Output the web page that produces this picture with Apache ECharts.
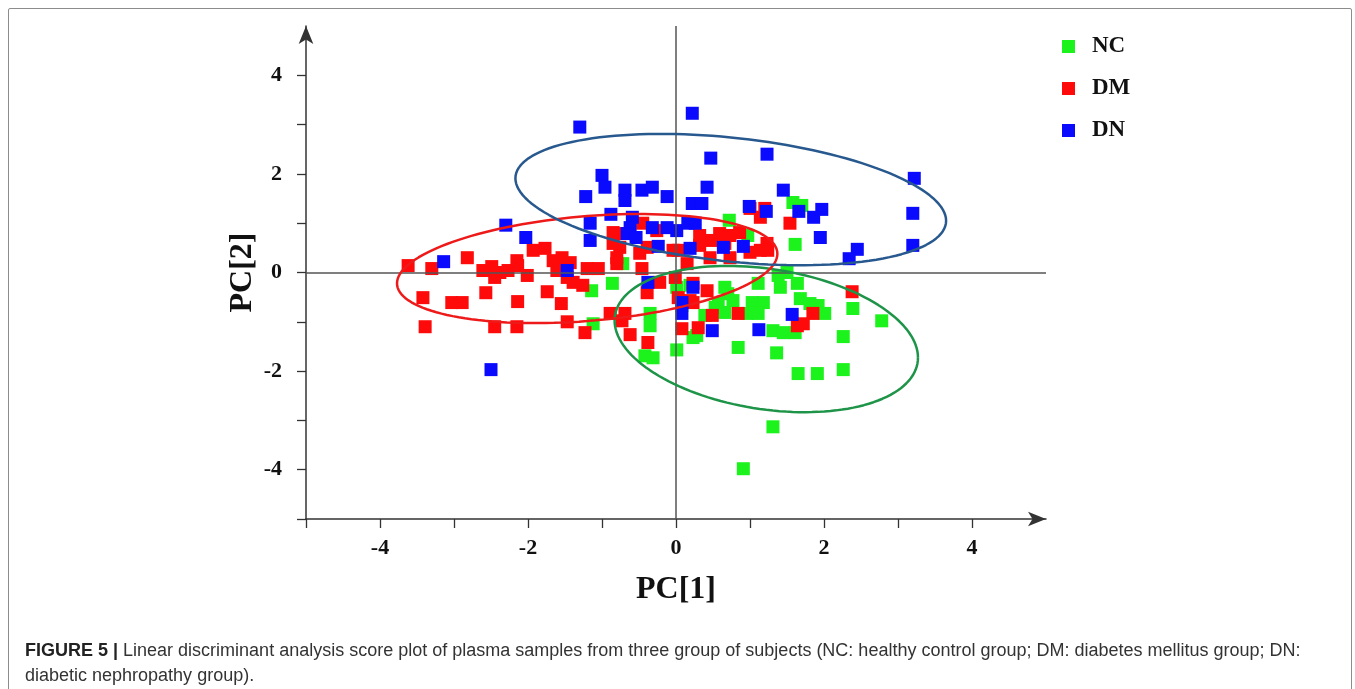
<!DOCTYPE html>
<html>
<head>
<meta charset="utf-8">
<script src="https://cdn.jsdelivr.net/npm/echarts@6/dist/echarts.min.js"></script>
<style>
  html, body { margin: 0; padding: 0; background: #fff; }
  #frame { position: absolute; left: 8px; top: 8px; width: 1342px; height: 720px; border: 1.5px solid #8c8c8c; border-radius: 2px; }
  #chart { position: absolute; left: 0; top: 0; width: 1355px; height: 689px; }
  #caption { position: absolute; left: 25px; top: 638px; width: 1315px; font: 18px/25px "Liberation Sans", Arial, sans-serif; color: #333; }
  #caption b { font-weight: bold; color: #222; }
</style>
</head>
<body>
<div id="frame"></div>
<div id="chart"></div>
<div id="caption"><b>FIGURE 5 |</b> Linear discriminant analysis score plot of plasma samples from three group of subjects (NC: healthy control group; DM: diabetes mellitus group; DN:<br>diabetic nephropathy group).</div>
<script>
// groups, colours
const groups = ['NC', 'DM', 'DN']
const pointColors = ['#1cf21c', '#ff0a0a', '#0a0aff']
const ellipseColors = ['#1e9448', '#ee1a1a', '#27588e']

// score points [PC1, PC2]
const nc = [
  [-0.86, -0.22], [-0.72, 0.18], [-1.14, -0.37], [-1.12, -1.04], [-0.35, -0.83], [-0.35, -1.08],
  [-0.42, -1.69], [-0.31, -1.73], [0.01, -1.57], [0.28, -1.28], [0.19, -0.26], [0.01, -0.30],
  [0.39, -0.87], [0.53, -0.71], [0.70, -0.43], [0.57, -0.63], [0.66, -0.81], [0.77, -0.57],
  [1.03, -0.61], [1.18, -0.61], [1.11, -0.83], [0.96, -0.83], [1.11, -0.22], [1.41, -0.30],
  [1.38, -0.06], [1.50, 0.00], [1.31, -1.18], [1.45, -1.22], [1.61, -1.22], [0.84, -1.52],
  [1.36, -1.63], [1.68, -0.53], [1.81, -0.63], [1.92, -0.67], [2.01, -0.83], [2.39, -0.73],
  [2.78, -0.98], [2.26, -1.30], [1.65, -2.05], [1.91, -2.05], [2.26, -1.97], [1.31, -3.13],
  [0.91, -3.98], [1.58, 1.42], [1.70, 1.36], [0.72, 1.06], [0.97, 0.75], [1.61, 0.57],
  [0.66, -0.30], [0.08, -0.67], [1.64, -0.22], [0.23, -1.32]
]
const dm = [
  [-3.62, 0.14], [-3.30, 0.08], [-2.82, 0.30], [-3.42, -0.51], [-3.39, -1.10], [-3.03, -0.61],
  [-2.89, -0.61], [-2.61, 0.04], [-2.49, 0.12], [-2.45, -0.10], [-2.38, 0.00], [-2.27, 0.04],
  [-2.14, 0.14], [-2.01, -0.06], [-2.15, 0.24], [-2.57, -0.41], [-2.45, -1.10], [-2.15, -1.10],
  [-2.14, -0.59], [-1.74, -0.39], [-1.55, -0.63], [-1.47, -1.00], [-1.23, -1.22], [-1.93, 0.45],
  [-1.77, 0.49], [-1.66, 0.24], [-1.54, 0.30], [-1.43, 0.20], [-1.61, 0.04], [-1.47, -0.10],
  [-1.39, -0.20], [-1.26, -0.26], [-1.20, 0.08], [-1.05, 0.08], [-0.80, 0.30], [-0.80, 0.18],
  [-0.46, 0.08], [-0.22, -0.20], [-0.01, -0.10], [-0.89, -0.83], [-0.69, -0.83], [-0.73, -0.98],
  [-0.62, -1.26], [-0.38, -1.42], [0.08, -1.14], [0.30, -1.12], [0.19, -0.57], [0.03, -0.51],
  [-0.39, -0.41], [-0.85, 0.81], [-0.69, 0.79], [-0.85, 0.59], [-0.45, 1.00], [-0.39, 0.51],
  [-0.49, 0.39], [-0.76, 0.51], [-0.26, 0.85], [0.03, 0.45], [0.32, 0.75], [0.49, 0.65],
  [0.59, 0.79], [0.73, 0.75], [0.86, 0.81], [1.00, 1.30], [1.14, 1.12], [1.23, 0.59],
  [1.54, 1.00], [0.46, 0.30], [0.73, 0.30], [1.00, 0.41], [1.14, 0.45], [0.15, 0.18],
  [0.23, -0.22], [0.42, -0.37], [0.23, -0.61], [0.49, -0.87], [0.84, -0.83], [1.85, -0.83],
  [1.72, -1.04], [1.64, -1.08], [2.38, -0.39], [0.32, 0.55], [0.66, 0.59], [1.24, 0.45],
  [-0.04, 0.45], [1.20, 1.30]
]
const dn = [
  [-1.30, 2.95], [-1.00, 1.97], [-0.96, 1.73], [-1.22, 1.54], [-0.69, 1.67], [-0.69, 1.46],
  [-0.46, 1.67], [-0.32, 1.73], [-0.12, 1.54], [-2.30, 0.96], [-2.03, 0.71], [-3.14, 0.22],
  [-1.16, 1.00], [-1.16, 0.65], [-0.88, 1.18], [-0.59, 1.12], [-0.62, 0.91], [-0.66, 0.79],
  [-0.54, 0.71], [-0.32, 0.91], [-0.12, 0.91], [0.01, 0.85], [0.16, 1.00], [0.26, 1.00],
  [-0.24, 0.53], [-1.47, 0.04], [-0.38, -0.20], [-2.50, -1.97], [0.23, -0.30], [0.08, -0.61],
  [0.08, -0.83], [0.22, 3.23], [0.47, 2.32], [1.23, 2.40], [0.42, 1.73], [1.45, 1.67],
  [3.22, 1.91], [3.20, 1.20], [3.20, 0.55], [0.22, 1.40], [0.35, 1.40], [0.99, 1.34],
  [1.22, 1.24], [1.66, 1.24], [1.97, 1.28], [1.86, 1.12], [1.95, 0.71], [2.45, 0.47],
  [2.34, 0.28], [0.19, 0.49], [0.64, 0.51], [0.91, 0.53], [0.49, -1.18], [1.12, -1.16],
  [1.57, -0.85]
]

// confidence ellipses: centre, half-diameter to the rightmost point, vertical conjugate half-diameter
const ellipseCenter = [[1.22, -1.35], [-1.20, 0.08], [0.74, 1.48]]
const ellipseU = [[2.05, -0.376], [2.57, 0.30], [2.91, -0.43]]
const ellipseV = [[0, 1.435], [0, 1.065], [0, 1.26]]

const tickValues = [-5, -4, -3, -2, -1, 0, 1, 2, 3, 4]
const labelValues = [-4, -2, 0, 2, 4]

function outline(c, u, v) {
  const pts = []
  for (let i = 0; i <= 144; i++) {
    const t = i / 144 * Math.PI * 2
    pts.push([c[0] + u[0] * Math.cos(t) + v[0] * Math.sin(t), c[1] + u[1] * Math.cos(t) + v[1] * Math.sin(t)])
  }
  return pts
}

const serif = '"Liberation Serif", "Times New Roman", serif'
const labelStyle = { fontFamily: serif, fontWeight: 'bold', fontSize: 22, color: '#111', customValues: labelValues }
const axisCommon = {
  type: 'value', min: -5, max: 5, interval: 1,
  splitLine: { show: false },
  axisLine: { onZero: false, symbol: ['none', 'arrow'], symbolSize: [11, 18], symbolOffset: [0, 0],
    lineStyle: { color: '#333', width: 1.5 } },
  axisTick: { inside: false, length: 9, customValues: tickValues, lineStyle: { color: '#333', width: 1.3 } },
  nameLocation: 'middle',
  nameMoveOverlap: false,
  nameTextStyle: { fontFamily: serif, fontWeight: 'bold', fontSize: 32, color: '#111' },
}

const chart = echarts.init(document.getElementById('chart'))
const pointSeries = [nc, dm, dn].map((d, i) => ({
  name: groups[i], type: 'scatter', symbol: 'rect', symbolSize: 13,
  itemStyle: { color: pointColors[i], opacity: 1 },
  data: d, z: 2 + i,
}))
pointSeries[0].markLine = {
  silent: true, symbol: 'none', label: { show: false },
  lineStyle: { color: '#555', width: 1.5, type: 'solid' },
  data: [{ xAxis: 0 }, { yAxis: 0 }],
}
const ellipseSeries = ellipseCenter.map((c, i) => ({
  type: 'line', silent: true, showSymbol: false, symbol: 'none',
  lineStyle: { color: ellipseColors[i], width: 2.5 },
  data: outline(c, ellipseU[i], ellipseV[i]), z: 6,
}))

chart.setOption({
  animation: false,
  grid: { left: 306, right: 309, top: 26, bottom: 170 },
  legend: {
    data: groups, orient: 'vertical', left: 1057, top: 30,
    icon: 'rect', itemWidth: 13, itemHeight: 13, itemGap: 19,
    textStyle: { fontFamily: serif, fontWeight: 'bold', fontSize: 23, color: '#111', padding: [0, 0, 0, 12] },
  },
  xAxis: Object.assign({}, axisCommon, {
    name: 'PC[1]', nameGap: 55,
    axisLabel: Object.assign({ margin: 18 }, labelStyle),
  }),
  yAxis: Object.assign({}, axisCommon, {
    name: 'PC[2]', nameGap: 47,
    axisLabel: Object.assign({ margin: 24 }, labelStyle),
  }),
  series: pointSeries.concat(ellipseSeries),
})
</script>
</body>
</html>
